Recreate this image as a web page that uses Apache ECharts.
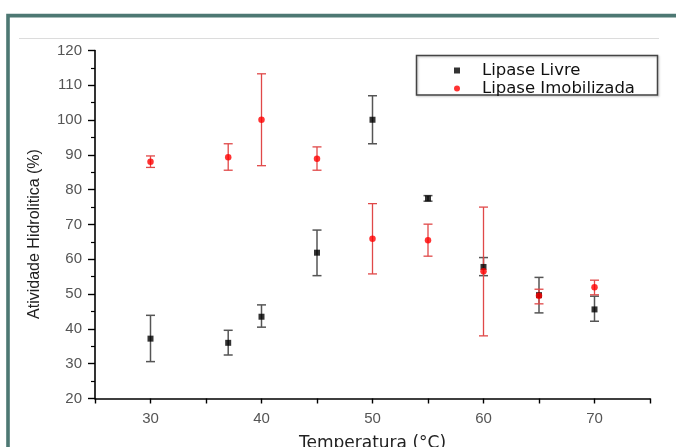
<!DOCTYPE html>
<html>
<head>
<meta charset="utf-8">
<script src="https://cdn.jsdelivr.net/npm/echarts@6/dist/echarts.min.js"></script>
<style>html,body{margin:0;padding:0;background:#fff;}#c{width:676px;height:447px;}</style>
</head>
<body>
<div id="c"></div>
<script>
const temps = [30, 37, 40, 45, 50, 55, 60, 65, 70];
const livre = [37.2, 36.0, 43.5, 61.9, 100.1, 77.5, 57.8, 49.7, 45.6];
const livreLow = [30.6, 32.5, 40.5, 55.3, 93.2, 76.7, 55.3, 44.6, 42.2];
const livreHigh = [43.9, 39.6, 46.9, 68.4, 107.0, 78.3, 60.5, 54.8, 49.4];
const imob = [88.0, 89.3, 100.1, 88.9, 65.9, 65.5, 56.6, 49.5, 52.0];
const imobLow = [86.4, 85.6, 86.9, 85.6, 55.8, 60.9, 38.0, 47.2, 49.8];
const imobHigh = [89.7, 93.2, 113.3, 92.3, 76.0, 70.1, 75.0, 51.4, 54.0];
const xLabels = [30, 40, 50, 60, 70];
const yTitle = 'Atividade Hidrolitica (%)';
const xTitle = 'Temperatura (°C)';
const names = ['Lipase Livre', 'Lipase Imobilizada'];

const chart = echarts.init(document.getElementById('c'));

function errRender(color, lw) {
  return function (params, api) {
    const x = api.value(0), lo = api.value(1), hi = api.value(2);
    const a = api.coord([x, lo]), b = api.coord([x, hi]);
    const w = 4.5;
    const st = { stroke: color, lineWidth: lw };
    return {
      type: 'group',
      children: [
        { type: 'line', shape: { x1: a[0], y1: a[1], x2: b[0], y2: b[1] }, style: st },
        { type: 'line', shape: { x1: a[0] - w, y1: a[1], x2: a[0] + w, y2: a[1] }, style: st },
        { type: 'line', shape: { x1: b[0] - w, y1: b[1], x2: b[0] + w, y2: b[1] }, style: st }
      ]
    };
  };
}

const option = {
  animation: false,
  backgroundColor: '#fff',
  grid: { left: 95, right: 26, top: 50.5, bottom: 48.5, containLabel: false, outerBoundsMode: 'none' },
  xAxis: {
    type: 'value', min: 25, max: 75, interval: 5,
    name: xTitle, nameLocation: 'middle', nameGap: 37,
    nameTextStyle: { fontFamily: 'DejaVu Sans', fontSize: 17, color: '#222' },
    axisLine: { show: true, lineStyle: { color: '#000', width: 1.6 } },
    axisTick: { show: true, length: 5, lineStyle: { color: '#000', width: 1.4 } },
    axisLabel: {
      margin: 13, color: '#555', fontFamily: 'Liberation Sans', fontSize: 15,
      formatter: function (v) { return xLabels.indexOf(v) >= 0 ? String(v) : ''; }
    },
    splitLine: { show: false }
  },
  yAxis: {
    type: 'value', min: 20, max: 120, interval: 10,
    axisLine: { show: true, lineStyle: { color: '#000', width: 1.6 } },
    axisTick: { show: true, length: 7, lineStyle: { color: '#000', width: 1.4 } },
    minorTick: { show: true, splitNumber: 2, length: 4, lineStyle: { color: '#000', width: 1.2 } },
    axisLabel: { margin: 13, color: '#555', fontFamily: 'Liberation Sans', fontSize: 15 },
    splitLine: { show: false }
  },
  legend: {
    orient: 'vertical', left: 416, top: 55,
    padding: [7, 19, 0, 38],
    itemWidth: 40, itemHeight: 6, itemGap: 1,
    borderWidth: 0, z: 20,
    textStyle: { fontFamily: 'DejaVu Sans', fontSize: 16.5, color: '#111', lineHeight: 12 },
    data: [
      { name: names[0], icon: 'path://M0 0H10V10H0Z' },
      { name: names[1], icon: 'circle' }
    ]
  },
  graphic: [
    { type: 'rect', shape: { x: 8, y: 15.6, width: 720, height: 500 },
      style: { fill: 'none', stroke: '#4d7873', lineWidth: 3.6 }, silent: true },
    { type: 'line', shape: { x1: 19, y1: 38.5, x2: 659, y2: 38.5 },
      style: { stroke: '#dcdcdc', lineWidth: 1 }, silent: true },
    { type: 'rect', shape: { x: 416.5, y: 55.5, width: 241, height: 39.5 },
      style: { fill: 'none', stroke: '#444', lineWidth: 1.5,
               shadowColor: 'rgba(0,0,0,0.25)', shadowBlur: 2, shadowOffsetX: 1, shadowOffsetY: 1 },
      silent: true, z: 1 },
    { type: 'text', x: 35, y: 234, rotation: Math.PI / 2,
      style: { text: yTitle, fontFamily: 'Liberation Sans', fontSize: 16, fill: '#222',
               textAlign: 'center', textVerticalAlign: 'middle' } }
  ],
  series: [
    { type: 'custom', name: 'errLivre', renderItem: errRender('#555', 1.5),
      data: temps.map((t, i) => [t, livreLow[i], livreHigh[i]]), encode: { x: 0, y: [1, 2] }, z: 2 },
    { type: 'custom', name: 'errImob', renderItem: errRender('#e04848', 1.3),
      data: temps.map((t, i) => [t, imobLow[i], imobHigh[i]]), encode: { x: 0, y: [1, 2] }, z: 2 },
    { type: 'scatter', name: names[0], symbol: 'rect', symbolSize: 6,
      itemStyle: { color: '#000' }, data: temps.map((t, i) => [t, livre[i]]), z: 3 },
    { type: 'scatter', name: names[1], symbol: 'circle', symbolSize: 6.5,
      itemStyle: { color: '#ff0000' }, data: temps.map((t, i) => [t, imob[i]]), z: 4 }
  ]
};
chart.setOption(option);
</script>
</body>
</html>
